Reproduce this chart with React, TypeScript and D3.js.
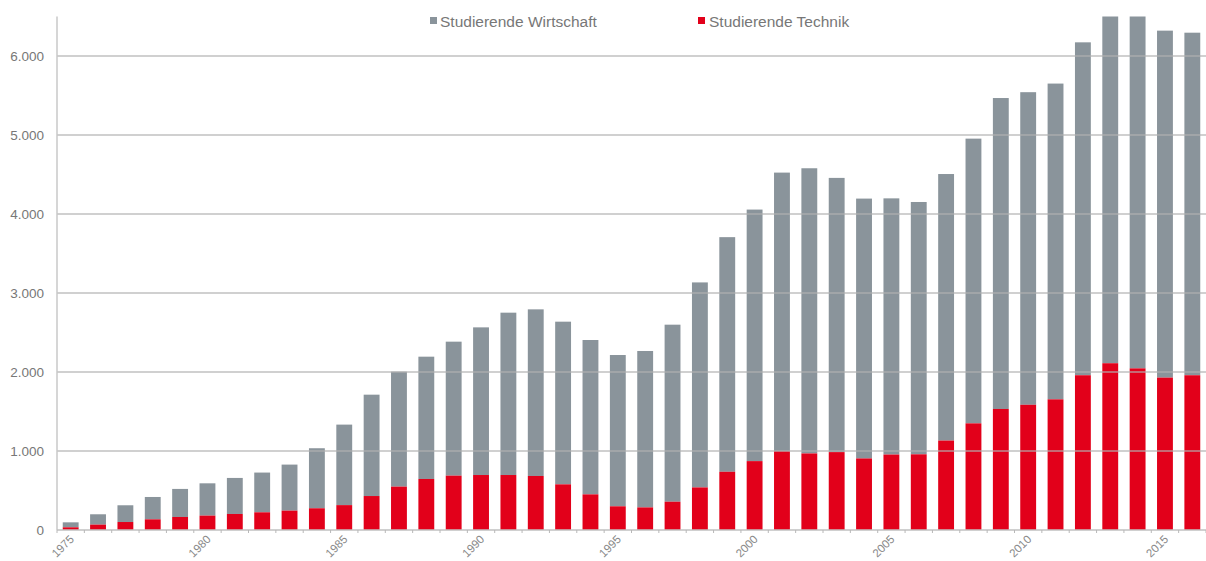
import React from "react";
import * as d3 from "d3";

const years: number[] = [
  1975, 1976, 1977, 1978, 1979, 1980, 1981, 1982, 1983, 1984,
  1985, 1986, 1987, 1988, 1989, 1990, 1991, 1992, 1993, 1994,
  1995, 1996, 1997, 1998, 1999, 2000, 2001, 2002, 2003, 2004,
  2005, 2006, 2007, 2008, 2009, 2010, 2011, 2012, 2013, 2014,
  2015, 2016,
];

// Total students (Technik + Wirtschaft)
const total: number[] = [
  97, 199, 313, 418, 520, 591, 659, 727, 828, 1035,
  1334, 1713, 2004, 2194, 2384, 2565, 2751, 2793, 2637, 2405,
  2215, 2266, 2599, 3134, 3707, 4056, 4524, 4579, 4457, 4195,
  4198, 4152, 4506, 4954, 5468, 5542, 5651, 6173, 6800, 6750,
  6321, 6295,
];

const technik: number[] = [
  34, 68, 101, 135, 165, 182, 203, 224, 245, 275,
  315, 430, 549, 646, 688, 696, 696, 684, 578, 451,
  300, 286, 358, 539, 737, 872, 998, 969, 986, 906,
  955, 958, 1132, 1350, 1532, 1585, 1654, 1959, 2111, 2046,
  1929, 1959,
];

const wirtschaft: number[] = total.map((t, i) => t - technik[i]);

const yTicks: number[] = [0, 1000, 2000, 3000, 4000, 5000, 6000];
const xLabelYears: number[] = [1975, 1980, 1985, 1990, 1995, 2000, 2005, 2010, 2015];
const seriesNames: string[] = ["Studierende Wirtschaft", "Studierende Technik"];

const GRAY = "#8a949b";
const RED = "#e2001a";

export default function App() {
  const W = 1206;
  const H = 561;
  const left = 57;
  const right = 1206;
  const top = 16.5;
  const bottom = 530;

  const x = d3
    .scaleBand<number>()
    .domain(years)
    .range([left, right])
    .paddingInner(0.42)
    .paddingOuter(0.21);
  const y = d3.scaleLinear().domain([0, 6500]).range([bottom, top]);
  const fmt = (v: number) => d3.format(",")(v).replace(/,/g, ".");

  const step = x.step();
  const bw = x.bandwidth();
  const clipY = (v: number) => Math.max(top, y(v));

  return (
    <svg
      width={W}
      height={H}
      style={{ position: "absolute", left: 0, top: 0, background: "#fff" }}
      fontFamily="'Liberation Sans', Arial, sans-serif"
    >
      {/* bars */}
      {years.map((yr, i) => {
        const bx = x(yr) as number;
        const tTop = y(technik[i]);
        const wTop = clipY(technik[i] + wirtschaft[i]);
        return (
          <g key={yr}>
            <rect x={bx} y={wTop} width={bw} height={tTop - wTop} fill={GRAY} />
            <rect x={bx} y={tTop} width={bw} height={bottom - tTop} fill={RED} />
          </g>
        );
      })}

      {/* gridlines over bars */}
      {yTicks
        .filter((t) => t > 0)
        .map((t) => (
          <line
            key={t}
            x1={left}
            x2={right}
            y1={y(t)}
            y2={y(t)}
            stroke="#b0b0b0"
            strokeOpacity={0.6}
            strokeWidth={2}
          />
        ))}

      {/* axes */}
      <line x1={left} x2={left} y1={top} y2={bottom} stroke="#c8c8c8" strokeWidth={1.5} />
      <line x1={left} x2={right} y1={bottom} y2={bottom} stroke="#c0c0c0" strokeWidth={1.5} />
      {d3.range(years.length + 1).map((i) => {
        const tx = (x(years[0]) as number) - (step - bw) / 2 + step * i;
        return (
          <line key={i} x1={tx} x2={tx} y1={bottom} y2={bottom + 3} stroke="#b8b8b8" strokeWidth={1} />
        );
      })}

      {/* y tick labels */}
      {yTicks.map((t) => (
        <text
          key={t}
          x={44}
          y={y(t)}
          dy="0.35em"
          textAnchor="end"
          fontSize={13.5}
          fill="#777"
        >
          {fmt(t)}
        </text>
      ))}

      {/* x labels */}
      {xLabelYears.map((yr) => {
        const cx = (x(yr) as number) + bw / 2 + 4;
        const cy = 540;
        return (
          <text
            key={yr}
            x={cx}
            y={cy}
            transform={`rotate(-45 ${cx} ${cy})`}
            textAnchor="end"
            fontSize={11.5}
            fill="#888"
          >
            {yr}
          </text>
        );
      })}

      {/* legend */}
      <g>
        <rect x={430} y={17} width={7} height={7} fill={GRAY} />
        <text x={440} y={27} fontSize={15.5} fill="#777">
          {seriesNames[0]}
        </text>
        <rect x={698} y={17} width={7} height={7} fill={RED} />
        <text x={709} y={27} fontSize={15.5} fill="#777">
          {seriesNames[1]}
        </text>
      </g>
    </svg>
  );
}
